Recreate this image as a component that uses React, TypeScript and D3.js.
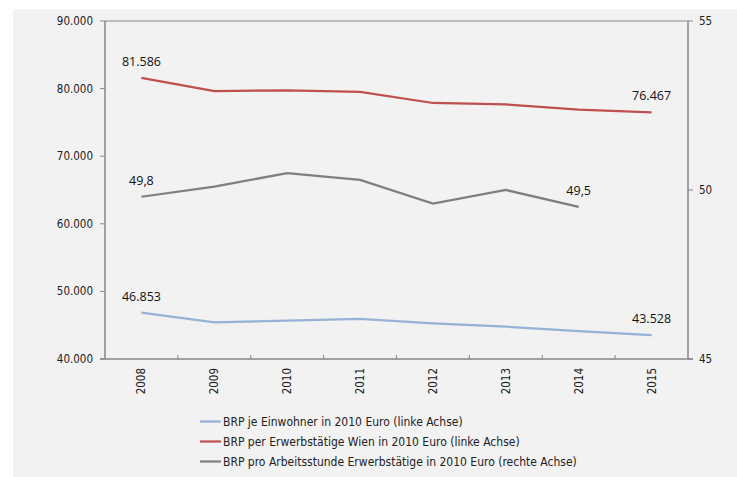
import * as React from 'react';
import { scaleBand, scaleLinear, line, format } from 'd3';

const years = ['2008', '2009', '2010', '2011', '2012', '2013', '2014', '2015'];
// left axis (Euro)
const einwohner = [46853, 45430, 45670, 45920, 45280, 44780, 44140, 43528];
const erwerbstaetige = [81586, 79645, 79740, 79500, 77870, 77670, 76880, 76467];
// right axis (Euro per hour), no value for 2015
const arbeitsstunde: (number | null)[] = [49.8, 50.1, 50.5, 50.3, 49.6, 50.0, 49.5, null];

const leftTicks = [40000, 50000, 60000, 70000, 80000, 90000];
const rightTicks = [45, 50, 55];

const legendLabels = [
    'BRP je Einwohner in 2010 Euro (linke Achse)',
    'BRP per Erwerbstätige Wien in 2010 Euro (linke Achse)',
    'BRP pro Arbeitsstunde Erwerbstätige in 2010 Euro (rechte Achse)',
];

const colors = { blue: '#95b3d7', red: '#c0504d', gray: '#7f7f7f', axis: '#868686', bg: '#f2f2f2' };

const axisFont = '"DejaVu Sans Condensed", "DejaVu Sans", sans-serif';
const labelFont = '"Open Sans", sans-serif';

const App = () => {
    const width = 737;
    const height = 477;
    const margin = { top: 21, right: 49, bottom: 118, left: 105 };
    const plotW = width - margin.left - margin.right;
    const plotH = height - margin.top - margin.bottom;

    const x = scaleBand().domain(years).range([0, plotW]);
    const cx = (d: string) => (x(d) || 0) + x.bandwidth() / 2;
    const yLeft = scaleLinear().domain([40000, 90000]).range([plotH, 0]);
    const yRight = scaleLinear().domain([45, 55]).range([plotH, 0]);

    const deFmt = (v: number) => format(',')(v).replace(/,/g, '.');

    const leftLine = line<number>().x((d, i) => cx(years[i])).y(d => yLeft(d));
    const rightLine = line<number | null>()
        .defined(d => d !== null)
        .x((d, i) => cx(years[i]))
        .y(d => yRight(d as number));

    const series = [
        { values: einwohner, color: colors.blue },
        { values: erwerbstaetige, color: colors.red },
    ];

    // data labels: first and last point
    const labels: { x: number, y: number, text: string }[] = [];
    series.forEach(s => {
        labels.push({ x: cx(years[0]), y: yLeft(s.values[0]), text: deFmt(s.values[0]) });
        const last = s.values.length - 1;
        labels.push({ x: cx(years[last]), y: yLeft(s.values[last]), text: deFmt(s.values[last]) });
    });
    const grayDefined = arbeitsstunde.map((v, i) => ({ v, i })).filter(d => d.v !== null);
    [grayDefined[0], grayDefined[grayDefined.length - 1]].forEach(d => {
        labels.push({ x: cx(years[d.i]), y: yRight(d.v as number), text: String(d.v).replace('.', ',') });
    });

    return (
        <svg width={width} height={height} style={{ position: 'absolute', left: 0, top: 0 }}>
            <rect x={13} y={9} width={width - 13} height={height - 9} fill={colors.bg} />
            <g transform={`translate(${margin.left}, ${margin.top})`}>
                {/* frame */}
                <line x1={0} x2={plotW} y1={0} y2={0} stroke={colors.axis} strokeWidth={1} />
                <line x1={0} x2={0} y1={0} y2={plotH} stroke={colors.axis} strokeWidth={1.5} />
                <line x1={plotW} x2={plotW} y1={0} y2={plotH} stroke={colors.axis} strokeWidth={1.5} />
                <line x1={-5} x2={plotW + 5} y1={plotH} y2={plotH} stroke={colors.axis} strokeWidth={1.5} />

                {/* left axis */}
                {leftTicks.map(t => (
                    <g key={t} transform={`translate(0, ${yLeft(t)})`}>
                        <line x1={-5} x2={0} stroke={colors.axis} />
                        <text x={-12} dy="0.35em" textAnchor="end" fontFamily={axisFont} fontSize={11.5} fill="#222">{deFmt(t)}</text>
                    </g>
                ))}

                {/* right axis */}
                {rightTicks.map(t => (
                    <g key={t} transform={`translate(${plotW}, ${yRight(t)})`}>
                        <line x1={0} x2={5} stroke={colors.axis} />
                        <text x={11} dy="0.35em" textAnchor="start" fontFamily={axisFont} fontSize={11.5} fill="#222">{t}</text>
                    </g>
                ))}

                {/* x axis */}
                {years.map((yr, i) => (
                    <g key={yr}>
                        {i > 0 && <line x1={x(yr) || 0} x2={x(yr) || 0} y1={plotH - 4} y2={plotH} stroke={colors.axis} />}
                        <text transform={`translate(${cx(yr)}, ${plotH + 9}) rotate(-90)`} dy="0.35em" textAnchor="end" fontFamily={axisFont} fontSize={11.5} fill="#222">{yr}</text>
                    </g>
                ))}

                {/* lines */}
                {series.map((s, i) => (
                    <path key={i} d={leftLine(s.values) || ''} fill="none" stroke={s.color} strokeWidth={2.25} />
                ))}
                <path d={rightLine(arbeitsstunde) || ''} fill="none" stroke={colors.gray} strokeWidth={2.25} />

                {labels.map((l, i) => (
                    <text key={i} x={l.x} y={l.y - 12} textAnchor="middle" fontFamily={labelFont} fontSize={12.5} fill="#111">{l.text}</text>
                ))}
            </g>

            {/* legend */}
            {legendLabels.map((lbl, i) => {
                const ly = 421.5 + i * 20;
                const c = [colors.blue, colors.red, colors.gray][i];
                return (
                    <g key={lbl}>
                        <line x1={200} x2={221} y1={ly} y2={ly} stroke={c} strokeWidth={2.25} />
                        <text x={223} y={ly} dy="0.35em" fontFamily={axisFont} fontSize={12} fill="#222">{lbl}</text>
                    </g>
                );
            })}
        </svg>
    );
};

export default App;
